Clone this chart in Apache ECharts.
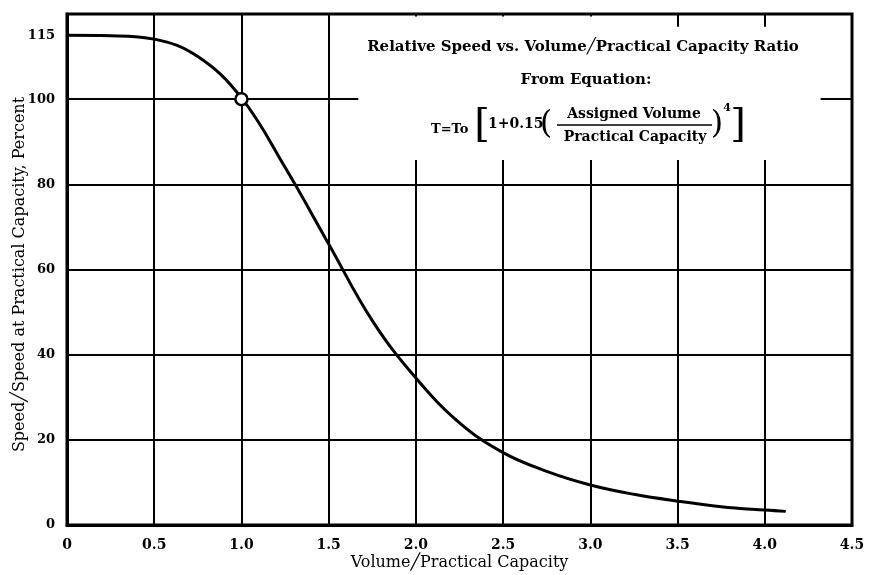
<!DOCTYPE html>
<html>
<head>
<meta charset="utf-8">
<script src="https://cdn.jsdelivr.net/npm/echarts@6/dist/echarts.min.js"></script>
<style>
html,body{margin:0;padding:0;background:#fff;}
#chart{width:870px;height:575px;}
</style>
</head>
<body>
<div id="chart"></div>
<script>
// ---- data ----
const ratioValues = [0, 0.25, 0.5, 0.75, 1.0, 1.25, 1.5, 1.75, 2.0, 2.25, 2.5, 2.75, 3.0, 3.25, 3.5, 3.75, 4.0, 4.12];
const speedValues = [115, 114.9, 114.1, 110, 100.3, 84, 66, 48, 34.5, 24, 17, 12.6, 9.4, 7.2, 5.6, 4.3, 3.5, 3.2];
const xTickLabels = ['0', '0.5', '1.0', '1.5', '2.0', '2.5', '3.0', '3.5', '4.0', '4.5'];
const yTickLabels = [0, 20, 40, 60, 80, 100, 115];
const hGridValues = [20, 40, 60, 80];
const refPoint = [1.0, 100];
const topStubs = [3.5, 4.0];
const titleText = 'Relative Speed vs. Volume\u2571Practical Capacity Ratio';
const subText = 'From Equation:';
const xName = 'Volume\u2571Practical Capacity';
const yName = 'Speed\u2571Speed at Practical Capacity, Percent';

// text box (blank area of the grid) in data units
const boxX = [1.67, 4.32];
const boxY = [85.7, 119.4];

const serif = '"DejaVu Serif", serif';
const chart = echarts.init(document.getElementById('chart'), null, {renderer: 'canvas'});

const curve = ratioValues.map((x, i) => [x, speedValues[i]]);
const gridLine = {color: '#000', width: 2, type: 'solid'};

const option = {
  backgroundColor: '#fff',
  animation: false,
  grid: {left: 67, right: 18, top: 14, bottom: 50, outerBoundsMode: 'none', containLabel: false,
    show: true, borderColor: '#000', borderWidth: 3, backgroundColor: 'transparent'},
  xAxis: {
    type: 'value', min: 0, max: 4.5, interval: 0.5,
    name: xName, nameLocation: 'middle', nameGap: 30, nameMoveOverlap: false,
    nameTextStyle: {fontFamily: serif, fontSize: 16, color: '#000'},
    axisLine: {show: true, lineStyle: {color: '#000', width: 3}},
    axisTick: {show: false},
    axisLabel: {margin: 13, fontFamily: serif, fontWeight: 'bold', fontSize: 14, color: '#000',
      formatter: v => xTickLabels[Math.round(v / 0.5)]},
    splitLine: {show: true, lineStyle: gridLine}
  },
  yAxis: {
    type: 'value', min: 0, max: 120, interval: 20,
    name: yName, nameLocation: 'middle', nameGap: 39, nameMoveOverlap: false,
    nameTextStyle: {fontFamily: serif, fontSize: 16, color: '#000', padding: [0, 0, 0, -10]},
    axisLine: {show: true, lineStyle: {color: '#000', width: 3}},
    axisTick: {show: false},
    axisLabel: {margin: 12, fontFamily: serif, fontWeight: 'bold', fontSize: 13, color: '#000',
      customValues: yTickLabels},
    splitLine: {show: false}
  },
  series: [
    {
      type: 'line', data: [], z: 4, silent: true,
      markLine: {
        silent: true, symbol: 'none', animation: false,
        label: {show: false},
        lineStyle: gridLine,
        data: hGridValues.map(v => ({yAxis: v}))
          .concat([
            [{coord: [0, 100]}, {coord: [boxX[0], 100]}],
            [{coord: [boxX[1], 100]}, {coord: [4.5, 100]}]
          ])
          .concat(topStubs.map(x => [{coord: [x, 120]}, {coord: [x, 117]}]))
      }
    },
    {
      type: 'line', data: [], z: 3, silent: true,
      markArea: {
        silent: true, animation: false,
        itemStyle: {color: '#fff', opacity: 1},
        label: {show: false},
        data: [[{coord: [boxX[0], boxY[0]]}, {coord: [boxX[1], boxY[1]]}]]
      }
    },
    {
      type: 'line', data: curve, z: 5, smooth: 0.4,
      showSymbol: false, symbol: 'none',
      lineStyle: {color: '#000', width: 3}
    },
    {
      type: 'scatter', data: [refPoint], z: 6,
      symbol: 'circle', symbolSize: 12,
      itemStyle: {color: '#fff', opacity: 1, borderColor: '#000', borderWidth: 2.5}
    }
  ],
  graphic: [
    {type: 'text', x: 583, y: 47, z: 10, style: {text: titleText, font: 'bold 15px ' + serif, fill: '#000', align: 'center', verticalAlign: 'middle'}},
    {type: 'text', x: 586, y: 80, z: 10, style: {text: subText, font: 'bold 15px ' + serif, fill: '#000', align: 'center', verticalAlign: 'middle'}},
    {type: 'text', x: 431, y: 130, z: 10, style: {text: 'T=To', font: 'bold 13px ' + serif, fill: '#000', align: 'left', verticalAlign: 'middle'}},
    {type: 'text', x: 482, y: 126, z: 10, style: {text: '[', font: '40px ' + serif, fill: '#000', align: 'center', verticalAlign: 'middle'}},
    {type: 'text', x: 488, y: 124, z: 10, style: {text: '1+0.15', font: 'bold 14px ' + serif, fill: '#000', align: 'left', verticalAlign: 'middle'}},
    {type: 'text', x: 546, y: 125, z: 10, style: {text: '(', font: '32px ' + serif, fill: '#000', align: 'center', verticalAlign: 'middle'}},
    {type: 'text', x: 634, y: 114, z: 10, style: {text: 'Assigned Volume', font: 'bold 14px ' + serif, fill: '#000', align: 'center', verticalAlign: 'middle'}},
    {type: 'line', z: 10, shape: {x1: 557, y1: 125, x2: 712, y2: 125}, style: {stroke: '#000', lineWidth: 1.5}},
    {type: 'text', x: 635, y: 137, z: 10, style: {text: 'Practical Capacity', font: 'bold 14px ' + serif, fill: '#000', align: 'center', verticalAlign: 'middle'}},
    {type: 'text', x: 717, y: 125, z: 10, style: {text: ')', font: '32px ' + serif, fill: '#000', align: 'center', verticalAlign: 'middle'}},
    {type: 'text', x: 727, y: 108, z: 10, style: {text: '4', font: 'bold 11px ' + serif, fill: '#000', align: 'center', verticalAlign: 'middle'}},
    {type: 'text', x: 738, y: 126, z: 10, style: {text: ']', font: '40px ' + serif, fill: '#000', align: 'center', verticalAlign: 'middle'}}
  ]
};
chart.setOption(option);
</script>
</body>
</html>
